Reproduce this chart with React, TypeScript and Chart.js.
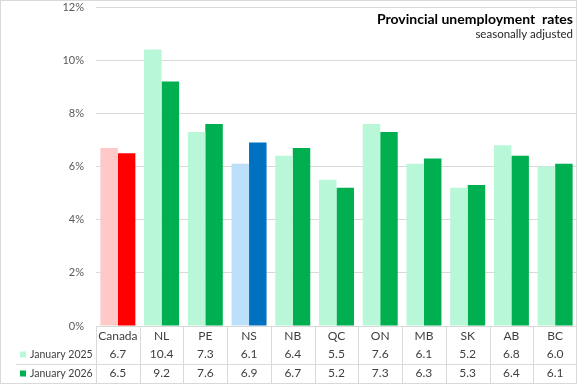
import React, { useEffect, useRef } from "react";
import { Chart, registerables } from "chart.js";

Chart.register(...registerables);

const categories = ["Canada", "NL", "PE", "NS", "NB", "QC", "ON", "MB", "SK", "AB", "BC"];
const jan2025 = [6.7, 10.4, 7.3, 6.1, 6.4, 5.5, 7.6, 6.1, 5.2, 6.8, 6.0];
const jan2026 = [6.5, 9.2, 7.6, 6.9, 6.7, 5.2, 7.3, 6.3, 5.3, 6.4, 6.1];
const seriesLabels = ["January 2025", "January 2026"];
const titleText = "Provincial unemployment  rates";
const subtitleText = "seasonally adjusted";

const W = 577;
const H = 384;
const FONT = "Lato, 'Open Sans', sans-serif";

const light = (c: string) => (c === "Canada" ? "#ffc9c9" : c === "NS" ? "#bde0fa" : "#b9f7d9");
const dark = (c: string) => (c === "Canada" ? "#ff0000" : c === "NS" ? "#0070c0" : "#00b050");
const legendColors = ["#b9f7d9", "#00b050"];

const tablePlugin = {
  id: "tablePlugin",
  afterDraw(chart: any) {
    const ctx = chart.ctx as CanvasRenderingContext2D;
    const x = chart.scales.x;
    const area = chart.chartArea;
    const step = (area.right - area.left) / categories.length;
    const yAxis = area.bottom;
    const rowCat = 336;
    const rows = [354.5, 373.5];
    const sepY = 364;
    const bottomY = 383;
    ctx.save();
    // lines
    ctx.strokeStyle = "#d9d9d9";
    ctx.lineWidth = 1;
    ctx.beginPath();
    for (let i = 0; i <= categories.length; i++) {
      const px = Math.round(area.left + i * step) + 0.5;
      ctx.moveTo(px, yAxis);
      ctx.lineTo(px, bottomY);
    }
    ctx.moveTo(16, sepY + 0.5);
    ctx.lineTo(W, sepY + 0.5);
    ctx.stroke();
    // outer border
    ctx.strokeRect(0.5, 0.5, W - 1, H - 1);

    // text
    ctx.fillStyle = "#404040";
    ctx.font = `12px ${FONT}`;
    ctx.textAlign = "center";
    ctx.textBaseline = "middle";
    categories.forEach((c, i) => {
      const cx = x.getPixelForValue(i);
      ctx.fillText(c, cx, rowCat);
      ctx.fillText(jan2025[i].toFixed(1), cx, rows[0]);
      ctx.fillText(jan2026[i].toFixed(1), cx, rows[1]);
    });
    // legend keys
    ctx.textAlign = "left";
    ctx.font = `10.5px ${FONT}`;
    seriesLabels.forEach((s, r) => {
      ctx.fillStyle = legendColors[r];
      ctx.fillRect(20, rows[r] - 3, 6, 6);
      ctx.fillStyle = "#404040";
      ctx.fillText(s, 30, rows[r]);
    });
    // title
    ctx.textAlign = "right";
    ctx.textBaseline = "alphabetic";
    ctx.fillStyle = "#000000";
    ctx.font = `bold 14px ${FONT}`;
    ctx.fillText(titleText, 573, 24);
    ctx.fillStyle = "#262626";
    ctx.font = `11.5px ${FONT}`;
    ctx.fillText(subtitleText, 573, 38);
    ctx.restore();
  },
};

export default function App() {
  const ref = useRef<HTMLCanvasElement>(null);
  useEffect(() => {
    document.body.style.margin = "0";
    const chart = new Chart(ref.current!, {
      type: "bar",
      data: {
        labels: categories,
        datasets: [
          {
            label: seriesLabels[0],
            data: jan2025,
            backgroundColor: categories.map(light),
            barPercentage: 1,
            categoryPercentage: 0.8,
          },
          {
            label: seriesLabels[1],
            data: jan2026,
            backgroundColor: categories.map(dark),
            barPercentage: 1,
            categoryPercentage: 0.8,
          },
        ],
      },
      options: {
        animation: false,
        responsive: false,
        devicePixelRatio: 1,
        layout: { padding: { top: 7, bottom: 58, left: 0, right: 0 } },
        plugins: { legend: { display: false }, title: { display: false }, tooltip: { enabled: false } },
        scales: {
          x: { display: false },
          y: {
            min: 0,
            max: 12,
            ticks: {
              stepSize: 2,
              padding: 12,
              color: "#595959",
              font: { family: FONT, size: 11 },
              callback: (v: any) => `${v}%`,
            },
            grid: { color: "#d9d9d9", drawTicks: false },
            border: { display: false },
            afterFit: (s: any) => {
              s.width = 96;
              s.paddingTop = 0;
              s.paddingBottom = 0;
            },
          },
        },
      },
      plugins: [tablePlugin],
    });
    return () => chart.destroy();
  }, []);
  return (
    <div style={{ position: "absolute", left: 0, top: 0, width: W, height: H }}>
      <canvas ref={ref} width={W} height={H} />
    </div>
  );
}
